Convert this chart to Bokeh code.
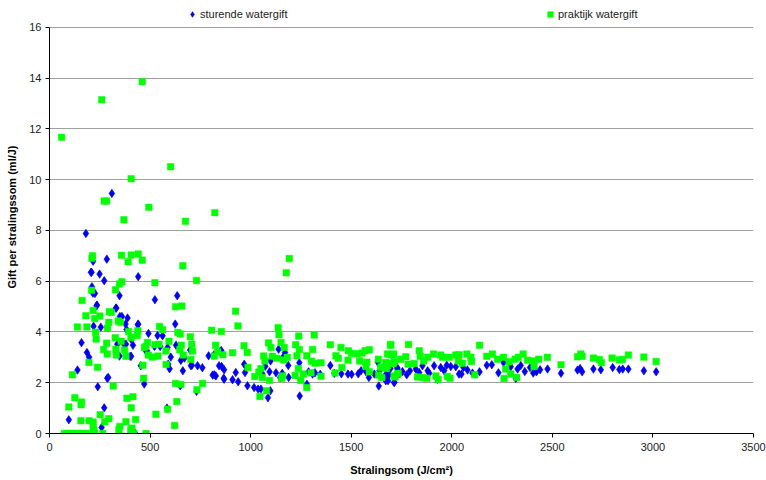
from bokeh.plotting import figure
from bokeh.models import Range1d, Legend, LegendItem, FixedTicker
from bokeh.embed import file_html
from bokeh.resources import INLINE

# sturende watergift (blue diamonds): stralingssom, gift per stralingssom
blue_x = [96, 139, 159, 181, 186, 197, 206, 209, 211, 216, 217, 219, 226, 234, 236, 240, 249, 255, 259,
          272, 272, 285, 287, 287, 292, 310, 330, 332, 337, 348, 348, 350, 360, 368, 378, 380, 383, 388,
          401, 405, 406, 415, 427, 439, 441, 441, 454, 471, 481, 484, 492,
          522, 524, 537, 550, 562, 584, 587, 590, 597, 603, 625, 629, 635, 650, 653, 663, 671, 699, 703,
          708, 731, 736, 760, 791, 811, 817, 819, 827, 843, 847, 854, 856, 866, 868, 868, 910, 926, 938,
          968, 972, 984, 1017, 1037, 1051, 1058, 1073, 1086, 1094, 1098, 1099, 1126, 1139, 1147, 1157,
          1161, 1171, 1187, 1189, 1242, 1244, 1280, 1288, 1308, 1320, 1346, 1396, 1416, 1451, 1484, 1502,
          1535, 1549, 1573, 1588, 1615, 1632, 1637, 1641, 1673, 1683, 1695, 1715, 1729, 1739,
          1672, 1688, 1713, 1730, 1755, 1776, 1792, 1821, 1838, 1854, 1880, 1888, 1912, 1929, 1945, 1962,
          1975, 1995, 2020, 2036, 2048, 2058, 2078, 2103, 2138, 2174, 2199, 2232, 2257, 2293, 2318, 2327,
          2343, 2363, 2389, 2405, 2421, 2439, 2476, 2543, 2625, 2638, 2648, 2704, 2741, 2800, 2833, 2850,
          2878, 2955, 3016]
blue_y = [0.54, 2.50, 3.58, 7.88, 3.19, 3.00, 6.35, 6.35, 5.78, 5.53, 6.79, 4.23, 5.52, 5.03, 5.06, 1.84, 6.28, 4.19, 0.24,
          6.02, 1.01, 6.87, 4.18, 2.18, 2.21, 9.46, 4.94, 4.94, 3.52, 5.43, 3.05, 4.61, 4.61, 3.55, 4.31, 3.52, 4.10, 4.55,
          3.04, 3.72, 3.04, 3.48, 0.00, 4.28, 6.18, 4.31, 2.67, 1.95, 3.23, 3.26, 3.94,
          3.43, 5.27, 3.86, 3.43, 3.85, 1.00, 3.39, 2.73, 2.55, 3.01, 4.31, 3.48, 5.43, 1.88, 2.88, 2.47, 2.97, 3.29, 2.67,
          2.69, 1.66, 2.67, 2.59, 3.06, 2.30, 3.09, 2.31, 2.27, 2.67, 3.22, 3.27, 2.64, 2.18, 2.51, 2.14, 2.12, 2.40, 2.04,
          2.73, 2.40, 1.88, 1.81, 1.75, 1.75, 2.35, 2.65, 1.41, 2.43, 1.68, 2.86, 2.39, 3.32, 2.21, 2.37,
          3.00, 3.19, 2.68, 2.21, 2.79, 1.48, 1.94, 2.43, 2.34, 2.39, 2.33, 2.68, 2.37, 2.35, 2.34, 2.33,
          2.35, 2.47, 2.44, 2.21, 2.34, 2.81, 1.87, 2.47, 2.33, 2.08, 2.56, 2.02, 2.59, 2.35,
          2.08, 2.31, 2.01, 2.54, 2.44, 2.31, 2.47, 2.54, 2.40, 2.67, 2.47, 2.37, 2.67, 2.14, 2.60, 2.47,
          2.69, 2.64, 2.63, 2.34, 2.34, 2.60, 2.50, 2.38, 2.43, 2.69, 2.71, 2.39, 2.80, 2.63, 2.17, 2.54,
          2.68, 2.44, 2.60, 2.38, 2.43, 2.51, 2.54, 2.37, 2.50, 2.56, 2.43, 2.54, 2.51, 2.60, 2.52, 2.54,
          2.54, 2.47, 2.43]

# praktijk watergift (green squares)
green_x = [60, 260, 461, 602, 406, 494, 822, 676, 272, 284, 370,
           211, 214, 358, 406, 441, 461, 391, 663, 1192, 1177, 731, 209, 162, 360, 348, 524, 328, 217, 181,
           250, 297, 307, 139, 186, 225, 295, 288, 342, 352, 627, 658, 925, 937, 1137, 1141, 1239, 1316, 854,
           547, 562, 439, 393, 700, 806, 405, 436, 327, 229, 232, 487, 479, 525, 544, 594, 638, 650, 655, 707,
           967, 983, 826, 836, 862, 819, 910, 330, 284, 269, 287, 332, 373, 380, 356, 539, 511, 491, 464, 472,
           579, 580, 648, 665, 711, 703, 196, 114, 239, 317, 468, 627, 653, 733, 761, 385, 415, 126, 159, 157,
           96, 406, 587, 633, 529, 622, 252, 275, 295, 217, 197, 156, 350, 380, 410, 428, 217, 220, 345, 404,
           74, 90, 105, 120, 135, 150, 165, 180, 196, 225, 265, 419, 480,
           1089, 1101, 1151, 1167, 1131, 1164, 1108, 1064, 1071, 1051, 1041, 1021, 1058, 1094, 1079, 1046, 987,
           1159, 1154, 1182, 1224, 1242, 1230, 1237, 1221, 1249, 1279, 1279, 1303, 1308, 1320, 1262, 1300, 1350,
           1350, 1396, 1420, 1424, 1436, 1449, 1454, 1486, 1484, 1502, 1532, 1542, 1554, 1569, 1590, 1573, 1590,
           1578, 1635, 1651, 1636, 1681, 1691, 1695, 1709, 1714, 1718, 1731,
           1697, 1785, 1680, 1710, 1746, 1771, 1672, 1687, 1710, 1783, 1813, 1838, 1843, 1860, 1880, 1909, 1945,
           1955, 1987, 2020, 2036, 2033, 2053, 2075, 2095, 2098, 2138, 2174, 2202, 2227, 2257, 2285, 2315, 2331,
           2355, 2376, 2404, 2432, 2475, 2543, 2625, 2641, 2648, 2704, 2733, 2744, 2797, 2833, 2848, 2878, 2955,
           3016, 1647, 1675, 1713, 1733, 1829, 1854, 1876, 1921, 1932, 1978, 1991, 2114, 2260, 2268, 2293, 2323,
           2409, 1652]
green_y = [11.67, 13.15, 13.86, 10.51, 10.04, 8.91, 8.70, 8.36, 9.16, 9.16, 8.42,
           6.90, 7.00, 7.02, 7.03, 7.07, 6.83, 6.77, 6.61, 6.89, 6.33, 6.03, 5.64, 5.24, 5.98, 5.89, 5.94, 5.66, 4.85, 4.64,
           4.63, 4.80, 4.77, 4.20, 4.20, 4.53, 4.38, 4.15, 4.43, 4.38, 4.99, 5.02, 4.82, 4.24, 4.17, 3.89, 3.84, 3.88, 4.02,
           4.22, 4.09, 4.05, 4.02, 3.81, 4.07, 3.78, 3.86, 3.77, 3.99, 3.72, 3.59, 3.43, 3.50, 3.52, 3.63, 3.98, 3.92, 3.48, 3.52,
           3.46, 3.19, 3.48, 3.22, 3.10, 3.05, 3.18, 3.32, 3.56, 3.31, 3.13, 3.09, 3.29, 3.04, 3.63, 3.05, 3.01, 3.09, 2.69, 3.39,
           3.25, 2.72, 3.30, 3.09, 3.25, 2.92, 2.80, 2.31, 2.61, 1.87, 2.18, 1.97, 1.93, 1.72, 1.97, 1.39, 1.45, 1.41, 1.24, 1.13,
           1.04, 1.01, 0.96, 1.26, 0.76, 0.32, 0.74, 0.46, 0.58, 0.45, 0.50, 0.50, 0.28, 0.46, 0.21, 0.55, 0.24, 0.15, 0.15, 0.15,
           0, 0, 0, 0, 0, 0, 0, 0, 0, 0, 0, 0, 0,
           3.57, 3.39, 3.59, 3.39, 2.96, 2.90, 3.04, 3.05, 2.86, 2.56, 2.42, 2.25, 2.21, 2.09, 1.68, 1.46, 2.60,
           2.27, 2.17, 3.00, 3.50, 3.31, 3.06, 2.56, 2.29, 2.09, 1.81, 3.06, 2.85, 3.31, 2.77, 2.34, 2.39, 2.79,
           2.26, 3.50, 2.38, 3.06, 2.96, 3.39, 2.60, 3.26, 2.89, 3.15, 3.14, 2.86, 3.17, 3.26, 3.30, 2.65, 2.43,
           2.81, 2.93, 2.63, 2.30, 2.67, 3.11, 3.48, 3.09, 2.83, 2.23, 2.34,
           3.51, 3.51, 3.13, 3.13, 2.93, 3.02, 2.80, 2.76, 2.76, 2.73, 2.76, 3.26, 3.04, 2.86, 3.00, 3.13, 3.09,
           3.00, 3.00, 3.09, 3.10, 2.86, 2.77, 3.13, 3.00, 2.84, 3.48, 3.04, 3.13, 2.93, 3.00, 2.83, 2.93, 3.00,
           3.13, 2.89, 2.86, 2.93, 3.00, 2.71, 3.02, 3.13, 3.04, 2.97, 2.92, 2.79, 2.97, 2.90, 2.92, 3.09, 3.01,
           2.84, 2.60, 2.56, 2.27, 2.37, 2.23, 2.21, 2.18, 2.27, 2.13, 2.25, 2.18, 2.31, 2.17, 2.54, 2.34, 2.21,
           2.64, 2.21]

x_ticks = [0, 500, 1000, 1500, 2000, 2500, 3000, 3500]
y_ticks = [0, 2, 4, 6, 8, 10, 12, 14, 16]

FONT = "Liberation Sans"

# frame spans the full height above the x axis; value axis itself is bounded to 0-16
p = figure(width=766, height=480, output_backend="svg", toolbar_location=None,
           x_range=Range1d(0, 3500), y_range=Range1d(0, 17.06),
           min_border_left=49, min_border_right=13, min_border_top=0, min_border_bottom=47)
p.outline_line_color = None
p.background_fill_color = "white"
p.border_fill_color = "white"

p.xgrid.grid_line_color = None
p.ygrid.grid_line_color = "#a0a0a0"
p.ygrid.grid_line_width = 1

for ax in (p.xaxis[0], p.yaxis[0]):
    ax.axis_line_color = "black"
    ax.axis_line_width = 1
    ax.major_tick_line_color = "black"
    ax.major_tick_out = 4
    ax.major_tick_in = 0
    ax.minor_tick_line_color = None
    ax.major_label_text_font = FONT
    ax.major_label_text_font_size = "11px"
    ax.major_label_text_color = "#222222"
    ax.axis_label_text_font = FONT
    ax.axis_label_text_font_size = "11px"
    ax.axis_label_text_font_style = "bold"
    ax.axis_label_text_color = "black"

p.yaxis.bounds = (0, 16)
p.xaxis.ticker = FixedTicker(ticks=x_ticks)
p.yaxis.ticker = FixedTicker(ticks=y_ticks)
p.xaxis.major_label_standoff = 5
p.yaxis.major_label_standoff = 4
p.xaxis.axis_label = "Stralingsom (J/cm²)"
p.yaxis.axis_label = "Gift per stralingssom (ml/J)"
p.xaxis.axis_label_standoff = 10
p.yaxis.axis_label_standoff = 8

BLUE = "#0000ee"
GREEN = "#00ff00"

r_blue = p.scatter(blue_x, blue_y, marker="diamond", size=8.5, fill_color=BLUE,
                   line_color=BLUE, line_width=0.6)
r_green = p.scatter(green_x, green_y, marker="square", size=6.5, fill_color=GREEN,
                    line_color=GREEN, line_width=0.5)

leg1 = Legend(items=[LegendItem(label="sturende watergift", renderers=[r_blue])],
              location=(136, 412))
leg2 = Legend(items=[LegendItem(label="praktijk watergift", renderers=[r_green])],
              location=(494, 412))
for lg in (leg1, leg2):
    lg.background_fill_alpha = 0
    lg.border_line_color = None
    lg.padding = 0
    lg.margin = 0
    lg.glyph_width = 14
    lg.glyph_height = 14
    lg.label_height = 14
    lg.label_standoff = 1
    lg.label_text_font = FONT
    lg.label_text_font_size = "11px"
    lg.label_text_color = "#222222"
    p.add_layout(lg, "center")

open("out.html", "w").write(file_html(p, INLINE))
